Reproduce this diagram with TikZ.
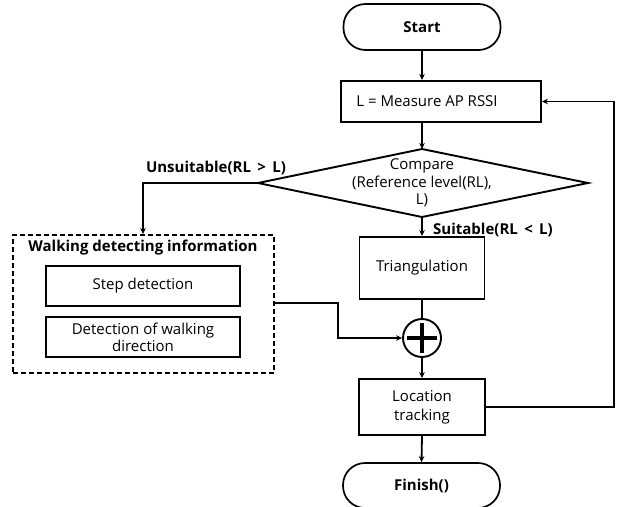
\documentclass[tikz,border=0pt]{standalone}
\usepackage{fontspec}
\setmainfont{Open Sans}
\usetikzlibrary{arrows.meta}
\begin{document}
\begin{tikzpicture}[x=1pt,y=-1pt,
  line width=1.9pt,
  every node/.style={font=\fontsize{15}{18}\selectfont},
  box/.style={draw,line width=1.9pt,inner sep=0pt,align=center},
  term/.style={draw,line width=1.7pt,rounded corners=22pt,inner sep=0pt,font=\fontsize{15}{18}\selectfont\bfseries},
  arr/.style={-{Stealth[length=6pt,width=5.5pt]},line width=1.8pt},
  lbl/.style={font=\fontsize{15}{18}\selectfont\bfseries,inner sep=0pt}]
\useasboundingbox (0,0) rectangle (618,506);
\clip (0,0) rectangle (618,506);
% terminals
\node[term,minimum width=157pt,minimum height=46pt] (start) at (422,27) {Start};
\node[box,minimum width=200pt,minimum height=41pt] (meas) at (441,101.5) {};
\node[inner sep=0pt] (measlbl) at (427,101.5) {L = Measure AP RSSI};
% diamond
\coordinate (dtop) at (422,149);
\coordinate (dleft) at (258,183);
\coordinate (dright) at (588,183);
\coordinate (dbot) at (422,217);
\draw[line width=1.9pt] (dtop) -- (dright) -- (dbot) -- (dleft) -- cycle;
\node[align=center,inner sep=0pt,font=\fontsize{15}{17.5}\selectfont] (cmp) at (422,183) {Compare\\(Reference level(RL),\\L)};
\node[box,minimum width=125pt,minimum height=62pt] (tri) at (422,268) {Triangulation};
\node[draw,circle,line width=1.9pt,minimum size=38pt,inner sep=0pt] (sum) at (422,338) {};
\draw[line width=3.2pt] (sum.center) ++(-15,0) -- ++(30,0);
\draw[line width=3.2pt] (sum.center) ++(0,-15) -- ++(0,30);
\node[box,minimum width=126pt,minimum height=56pt,font=\fontsize{15}{19}\selectfont] (loc) at (422,407) {Location\\tracking};
\node[term,minimum width=157pt,minimum height=45pt] (fin) at (421.5,485.5) {Finish()};
% walking group
\node[draw,dashed,dash pattern=on 5pt off 3pt,line width=1.9pt,minimum width=261pt,minimum height=138pt,inner sep=0pt] (walk) at (143.5,304) {};
\node[lbl] (wtitle) at (143,248) {Walking detecting information};
\node[box,minimum width=194pt,minimum height=40pt] (step) at (143,286) {Step detection};
\node[box,minimum width=194pt,minimum height=40pt,font=\fontsize{15}{17}\selectfont] (wdir) at (143,337) {Detection of walking\\direction};
% labels
\node[lbl] (uns) at (216,168) {Unsuitable(RL \,>\, L)};
\node[lbl] (sui) at (493,230) {Suitable(RL \,<\, L)};
% connectors
\draw[arr] (start.south) -- (start.south |- meas.north);
\draw[arr] (start.south |- meas.south) -- (dtop);
\draw[arr] (dbot) -- (tri.north);
\draw (tri.south) -- (sum.north);
\draw[arr] (sum.south) -- (loc.north);
\draw[arr] (loc.south) -- (fin.north);
\coordinate (uc) at (143,183);
\draw[arr] (dleft) -- (uc) -- (walk.north -| uc);
\coordinate (j1) at (338,303);
\draw[arr] (walk.east |- j1) -- (j1) -- (j1 |- sum.west) -- (sum.west);
\coordinate (lp) at (614,407);
\draw[arr] (loc.east) -- (lp) -- (lp |- meas.east) -- (meas.east);
\end{tikzpicture}
\end{document}
